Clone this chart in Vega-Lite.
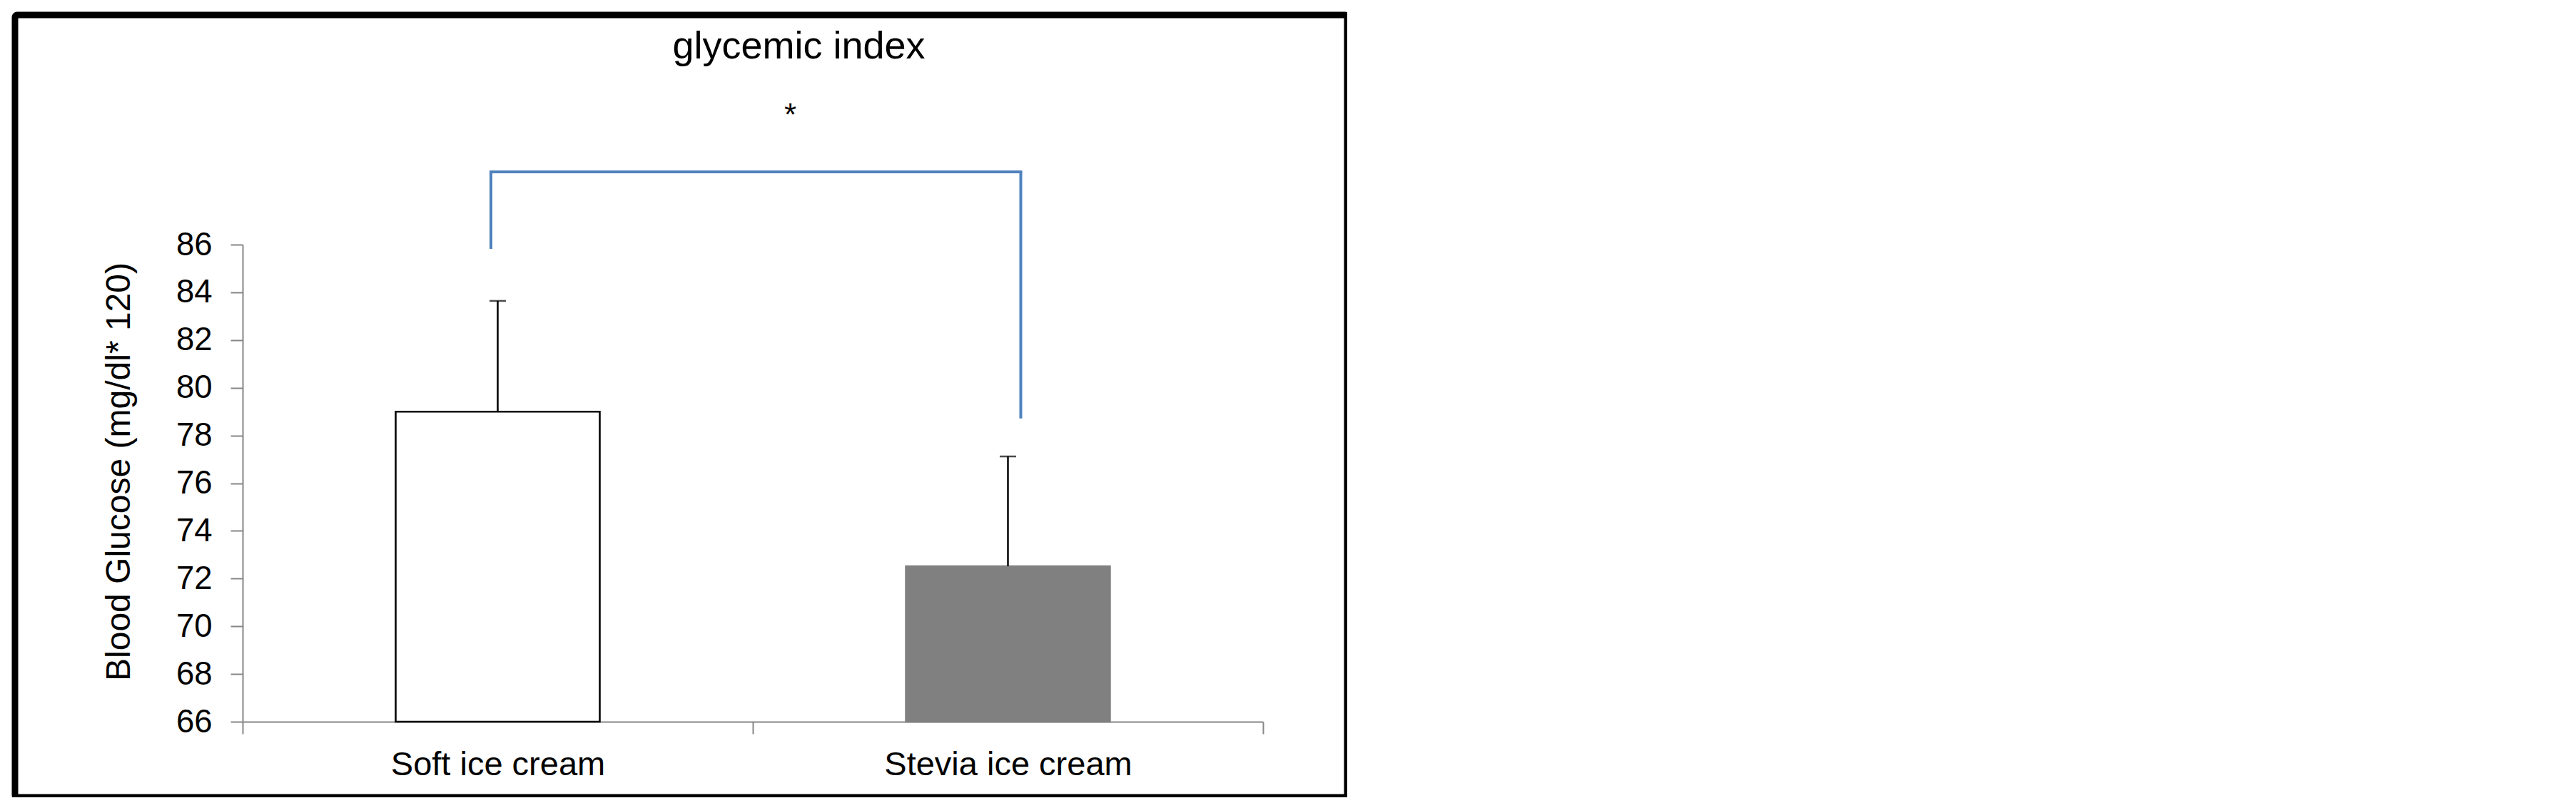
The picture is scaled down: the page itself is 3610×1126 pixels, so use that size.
{
  "$schema": "https://vega.github.io/schema/vega-lite/v6.json",
  "width": 1867,
  "height": 1097,
  "autosize": "none",
  "padding": {"left": 21, "top": 21, "right": 0, "bottom": 0},
  "datasets": {
    "bars": [
      {"product": "Soft ice cream", "mean": 79.0, "upper": 83.64},
      {"product": "Stevia ice cream", "mean": 72.52, "upper": 77.12}
    ],
    "bracket": [
      {"from": "Soft ice cream", "to": "Stevia ice cream", "top": 89.05, "fromEnd": 85.82, "toEnd": 78.71, "sig": "*", "sigY": 90.98}
    ],
    "heading": [
      {"anchor": "Soft ice cream", "text": "glycemic index", "y": 93.8}
    ]
  },
  "layer": [
    {
      "data": {"name": "bars"},
      "encoding": {
        "x": {
          "field": "product",
          "type": "nominal",
          "sort": null,
          "title": null,
          "scale": {"range": [319, 1749], "paddingInner": 0, "paddingOuter": 0},
          "axis": {
            "offset": -106,
            "tickBand": "extent",
            "labelAngle": 0,
            "labelLimit": 0,
            "labelFontSize": 47,
            "labelPadding": 20,
            "domainColor": "#868686",
            "domainWidth": 2,
            "tickColor": "#868686",
            "tickWidth": 2,
            "tickSize": 17,
            "grid": false
          }
        },
        "y": {
          "field": "mean",
          "type": "quantitative",
          "title": "Blood Glucose (mg/dl* 120)",
          "scale": {"domain": [66, 86], "range": [991, 322], "nice": false, "zero": false},
          "axis": {
            "values": [66, 68, 70, 72, 74, 76, 78, 80, 82, 84, 86],
            "offset": -319,
            "labelFontSize": 45.5,
            "labelPadding": 26,
            "domainColor": "#868686",
            "domainWidth": 2,
            "tickColor": "#868686",
            "tickWidth": 2,
            "tickSize": 17,
            "titleFontSize": 48,
            "titlePadding": 55,
            "titleY": 640,
            "grid": false
          }
        }
      },
      "layer": [
        {
          "mark": {"type": "bar", "width": {"band": 0.4}, "strokeWidth": 2.5},
          "encoding": {
            "y2": {"datum": 66},
            "fill": {"field": "product", "type": "nominal", "scale": {"range": ["#ffffff", "#808080"]}, "legend": null},
            "stroke": {"field": "product", "type": "nominal", "scale": {"range": ["#000000", "#808080"]}, "legend": null}
          }
        },
        {
          "mark": {"type": "rule", "color": "black", "strokeWidth": 2.5},
          "encoding": {"y2": {"field": "upper"}}
        },
        {
          "mark": {"type": "tick", "orient": "horizontal", "color": "black", "size": 23, "thickness": 2.5},
          "encoding": {"y": {"field": "upper", "type": "quantitative", "title": "Blood Glucose (mg/dl* 120)"}}
        }
      ]
    },
    {
      "data": {"name": "bracket"},
      "layer": [
        {
          "mark": {"type": "rule", "color": "#4F81BD", "strokeWidth": 4, "xOffset": -9.5},
          "encoding": {
            "x": {"field": "from", "type": "nominal"},
            "y": {"field": "fromEnd", "type": "quantitative"},
            "y2": {"field": "top"}
          }
        },
        {
          "mark": {"type": "rule", "color": "#4F81BD", "strokeWidth": 4, "xOffset": 18},
          "encoding": {
            "x": {"field": "to", "type": "nominal"},
            "y": {"field": "toEnd", "type": "quantitative"},
            "y2": {"field": "top"}
          }
        },
        {
          "mark": {"type": "rule", "color": "#4F81BD", "strokeWidth": 4, "strokeCap": "square", "xOffset": -9.5, "x2Offset": 18},
          "encoding": {
            "x": {"field": "from", "type": "nominal"},
            "x2": {"field": "to"},
            "y": {"field": "top", "type": "quantitative"}
          }
        },
        {
          "mark": {"type": "text", "font": "Liberation Sans", "fontSize": 44, "baseline": "alphabetic", "color": "black", "dx": 410},
          "encoding": {
            "x": {"field": "from", "type": "nominal"},
            "y": {"field": "sigY", "type": "quantitative"},
            "text": {"field": "sig"}
          }
        }
      ]
    },
    {
      "data": {"name": "heading"},
      "mark": {"type": "text", "font": "Liberation Sans", "fontSize": 54, "baseline": "alphabetic", "align": "center", "color": "black", "dx": 422},
      "encoding": {
        "x": {"field": "anchor", "type": "nominal"},
        "y": {"field": "y", "type": "quantitative"},
        "text": {"field": "text"}
      }
    }
  ],
  "config": {
    "font": "Liberation Sans",
    "view": {"stroke": "black", "strokeWidth": 9, "cornerRadius": 3},
    "axis": {
      "labelFont": "Liberation Sans",
      "labelColor": "black",
      "titleFont": "Liberation Sans",
      "titleColor": "black",
      "titleFontWeight": "normal"
    }
  }
}
